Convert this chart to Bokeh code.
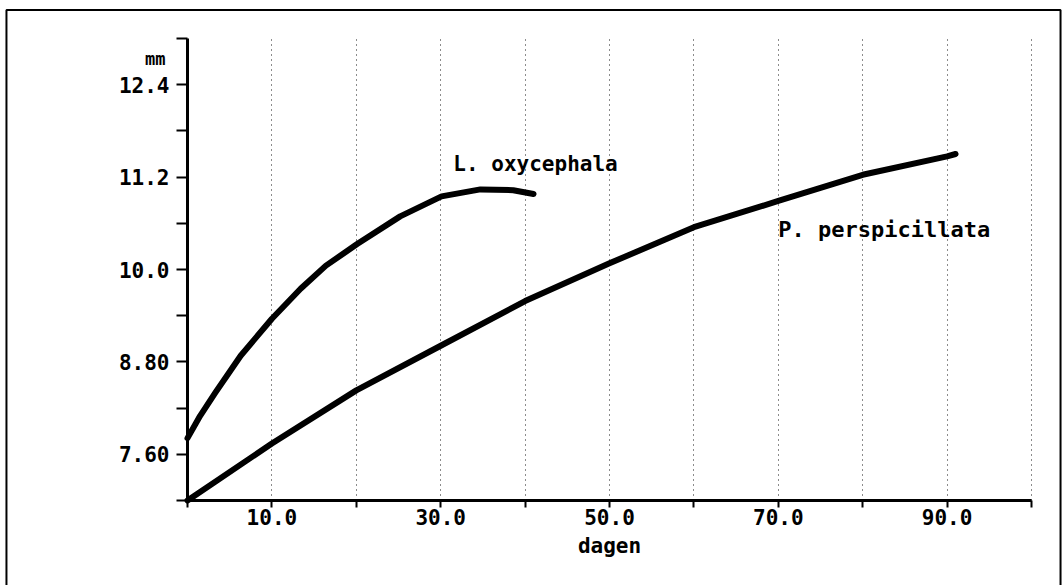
from bokeh.plotting import figure
from bokeh.models import Range1d, FixedTicker, Label, BoxAnnotation
from bokeh.embed import file_html
from bokeh.resources import INLINE

# --- data ---
oxy_days = [0, 1.5, 3.3, 6.3, 10.0, 13.4, 16.4, 20.1, 25.2, 30.1, 34.7, 38.6, 41.0]
oxy_mm = [7.81, 8.10, 8.40, 8.88, 9.36, 9.75, 10.05, 10.33, 10.69, 10.95, 11.04, 11.03, 10.98]

persp_days = [0, 10, 20, 30, 40, 50, 60, 70, 80, 90, 91]
persp_mm = [7.0, 7.74, 8.43, 9.01, 9.59, 10.08, 10.55, 10.89, 11.23, 11.47, 11.50]

x_ticks = [0, 10, 20, 30, 40, 50, 60, 70, 80, 90, 100]
x_labels = {10: "10.0", 30: "30.0", 50: "50.0", 70: "70.0", 90: "90.0"}
y_ticks = [7.0, 7.6, 8.2, 8.8, 9.4, 10.0, 10.6, 11.2, 11.8, 12.4, 13.0]
y_labels = {7.6: "7.60", 8.8: "8.80", 10.0: "10.0", 11.2: "11.2", 12.4: "12.4"}

FONT = "DejaVu Sans Mono"

# page geometry: the frame covers the whole page; the axes sit at fixed places
W, H = 1062, 585
X0_PX, X100_PX = 187, 1031
Y7_PX, Y13_PX = 500, 38
sx = (X100_PX - X0_PX) / 100.0
sy = (Y7_PX - Y13_PX) / 6.0
x_rng = Range1d(0 - X0_PX / sx, 100 + (W - X100_PX) / sx)
y_rng = Range1d(7.0 - (H - Y7_PX) / sy, 13.0 + Y13_PX / sy)

p = figure(width=W, height=H, output_backend="svg", toolbar_location=None, title=None,
           x_range=x_rng, y_range=y_rng,
           min_border_left=0, min_border_right=0, min_border_top=0, min_border_bottom=0)
p.outline_line_color = None
p.background_fill_color = "white"
p.border_fill_color = "white"

# axes
for ax in (p.xaxis[0], p.yaxis[0]):
    ax.axis_line_width = 3
    ax.axis_line_color = "black"
    ax.major_tick_line_width = 2
    ax.major_tick_line_color = "black"
    ax.minor_tick_line_color = None
    ax.major_tick_in = 0
    ax.major_label_text_font = FONT
    ax.major_label_text_font_style = "bold"
    ax.major_label_text_font_size = "21px"
    ax.major_label_text_color = "black"

xa = p.xaxis[0]
xa.fixed_location = 7.0
xa.bounds = (0, 100)
xa.ticker = FixedTicker(ticks=x_ticks)
xa.major_label_overrides = {t: x_labels.get(t, "") for t in x_ticks}
xa.major_tick_out = 7
xa.major_label_standoff = 1
xa.axis_label = "dagen"
xa.axis_label_text_font = FONT
xa.axis_label_text_font_style = "bold"
xa.axis_label_text_font_size = "21px"
xa.axis_label_text_color = "black"
xa.axis_label_standoff = 6

ya = p.yaxis[0]
ya.fixed_location = 0
ya.bounds = (7.0, 13.0)
ya.ticker = FixedTicker(ticks=y_ticks)
ya.major_label_overrides = {t: y_labels.get(t, "") for t in y_ticks}
ya.major_tick_out = 11
ya.major_label_standoff = 7

# grid: dotted vertical lines only over the plotting area
p.ygrid.grid_line_color = None
g = p.xgrid[0]
g.ticker = FixedTicker(ticks=x_ticks[1:])
g.grid_line_color = "black"
g.grid_line_width = 1
g.grid_line_dash = "1 4"
g.grid_line_alpha = 0.9
g.bounds = (0, 100)
try:
    g.cross_bounds = (7.0, 13.0)
except AttributeError:
    g.visible = False
    p.segment(x0=x_ticks[1:], x1=x_ticks[1:], y0=[7.0] * 10, y1=[13.0] * 10,
              line_color="black", line_width=1, line_dash="1 4", line_alpha=0.9)

# curves
p.line(oxy_days, oxy_mm, line_width=6, line_color="black", line_cap="round", line_join="round")
p.line(persp_days, persp_mm, line_width=6, line_color="black", line_cap="round", line_join="round")

# texts
p.add_layout(Label(x=31.5, y=11.37, text="L. oxycephala", text_font=FONT, text_font_style="bold",
                   text_font_size="21px", text_baseline="middle", text_align="left", text_color="black"))
p.add_layout(Label(x=70.0, y=10.52, text="P. perspicillata", text_font=FONT, text_font_style="bold",
                   text_font_size="22px", text_baseline="middle", text_align="left", text_color="black"))
p.add_layout(Label(x=-2.6, y=12.73, text="mm", text_font=FONT, text_font_style="bold",
                   text_font_size="17px", text_baseline="middle", text_align="right", text_color="black"))

# outer border of the page
p.add_layout(BoxAnnotation(left=-21.45, right=103.44, top=13.37, bottom=5.0,
                           fill_color=None, fill_alpha=0, line_color="black", line_alpha=1.0,
                           line_width=2))

open("out.html", "w").write(file_html(p, INLINE))
